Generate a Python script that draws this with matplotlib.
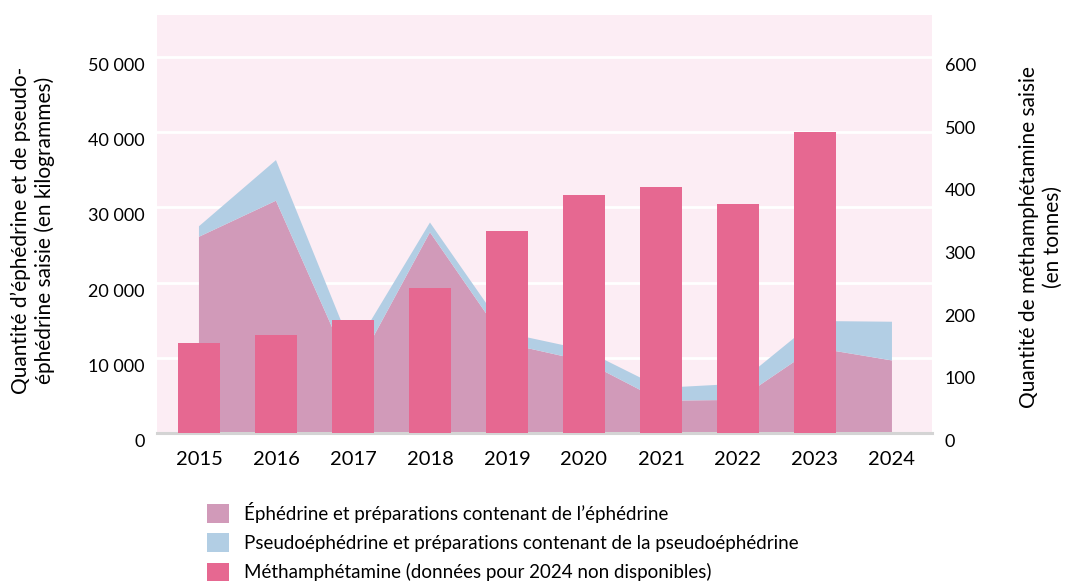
import matplotlib
matplotlib.use("Agg")
import matplotlib.pyplot as plt
from matplotlib.patches import Patch
from matplotlib.ticker import FuncFormatter
from matplotlib.transforms import ScaledTranslation
import numpy as np

plt.rcParams['font.family'] = ['Lato', 'DejaVu Sans']

# colours
BG_COLOR = '#fcedf4'
EPH_COLOR = '#d19ab9'
PSEUDO_COLOR = '#b2cee4'
METH_COLOR = '#e66891'

# data
years = [2015, 2016, 2017, 2018, 2019, 2020, 2021, 2022, 2023, 2024]
ephedrine = [26100, 30900, 7800, 26700, 11900, 9600, 4300, 4400, 11350, 9650]          # kg
pseudoephedrine = [1400, 5400, 3200, 1300, 1400, 1500, 1700, 2150, 3550, 5150]        # kg
methamphetamine = [143, 157, 181, 232, 323, 379, 392, 366, 480, np.nan]               # tonnes, 2024 n/a

left_ticks = [0, 10000, 20000, 30000, 40000, 50000]
right_ticks = [0, 100, 200, 300, 400, 500, 600]

legend_labels = [
    'Éphédrine et préparations contenant de l’éphédrine',
    'Pseudoéphédrine et préparations contenant de la pseudoéphédrine',
    'Méthamphétamine (données pour 2024 non disponibles)',
]

fig = plt.figure(figsize=(10.67, 5.83), dpi=100)
ax = fig.add_axes([157/1067, 1 - 433/583, (932-157)/1067, (433-15)/583])
ax.set_facecolor(BG_COLOR)

ax.stackplot(years, ephedrine, pseudoephedrine, colors=[EPH_COLOR, PSEUDO_COLOR], zorder=1)

ax.set_xlim(2014.455, 2024.52)
ax.set_ylim(0, 55600)
ax.set_yticks(left_ticks)
ax.yaxis.set_major_formatter(FuncFormatter(lambda v, p: f'{int(v):,}'.replace(',', ' ')))
ax.set_xticks(years)
ax.set_xticklabels([str(y) for y in years])
ax.set_axisbelow(True)
ax.grid(axis='y', color='white', linewidth=2)
ax.tick_params(axis='y', length=0, pad=9, labelsize=13)
ax.tick_params(axis='x', length=0, pad=13, labelsize=14.5)
for s in ax.spines.values():
    s.set_visible(False)
ax.axhline(0, color='#d4d4d4', linewidth=2.2, zorder=3, clip_on=False)

# methamphetamine bars on the right axis
ax2 = ax.twinx()
ax2.bar(years, methamphetamine, width=0.545, color=METH_COLOR, zorder=2)
ax2.set_ylim(0, 667)
ax2.set_yticks(right_ticks)
ax2.tick_params(axis='y', length=0, pad=9, labelsize=13)
for s in ax2.spines.values():
    s.set_visible(False)
ax2.set_xlim(2014.455, 2024.52)

# value labels sit a little below their grid lines in the reference
shift = ScaledTranslation(0, -0.075, fig.dpi_scale_trans)
for lab in ax.get_yticklabels() + ax2.get_yticklabels():
    lab.set_transform(lab.get_transform() + shift)

fig.text(33/1067, 0.604, 'Quantité d’éphédrine et de pseudo-\néphédrine saisie (en kilogrammes)',
         rotation=90, ha='center', va='center', multialignment='center',
         fontsize=15, linespacing=1.2)
fig.text(1041/1067, 0.593, 'Quantité de méthamphétamine saisie\n(en tonnes)',
         rotation=90, ha='center', va='center', multialignment='center',
         fontsize=15, linespacing=1.2)

handles = [Patch(facecolor=c, edgecolor='none') for c in [EPH_COLOR, PSEUDO_COLOR, METH_COLOR]]
fig.legend(handles, legend_labels, loc='upper left', bbox_to_anchor=(207/1067, 1 - 502/583),
           frameon=False, fontsize=13.5, handlelength=1.17, handleheight=1.17,
           handletextpad=0.8, labelspacing=0.55, borderaxespad=0, borderpad=0)

fig.savefig('out.png', dpi=100)
